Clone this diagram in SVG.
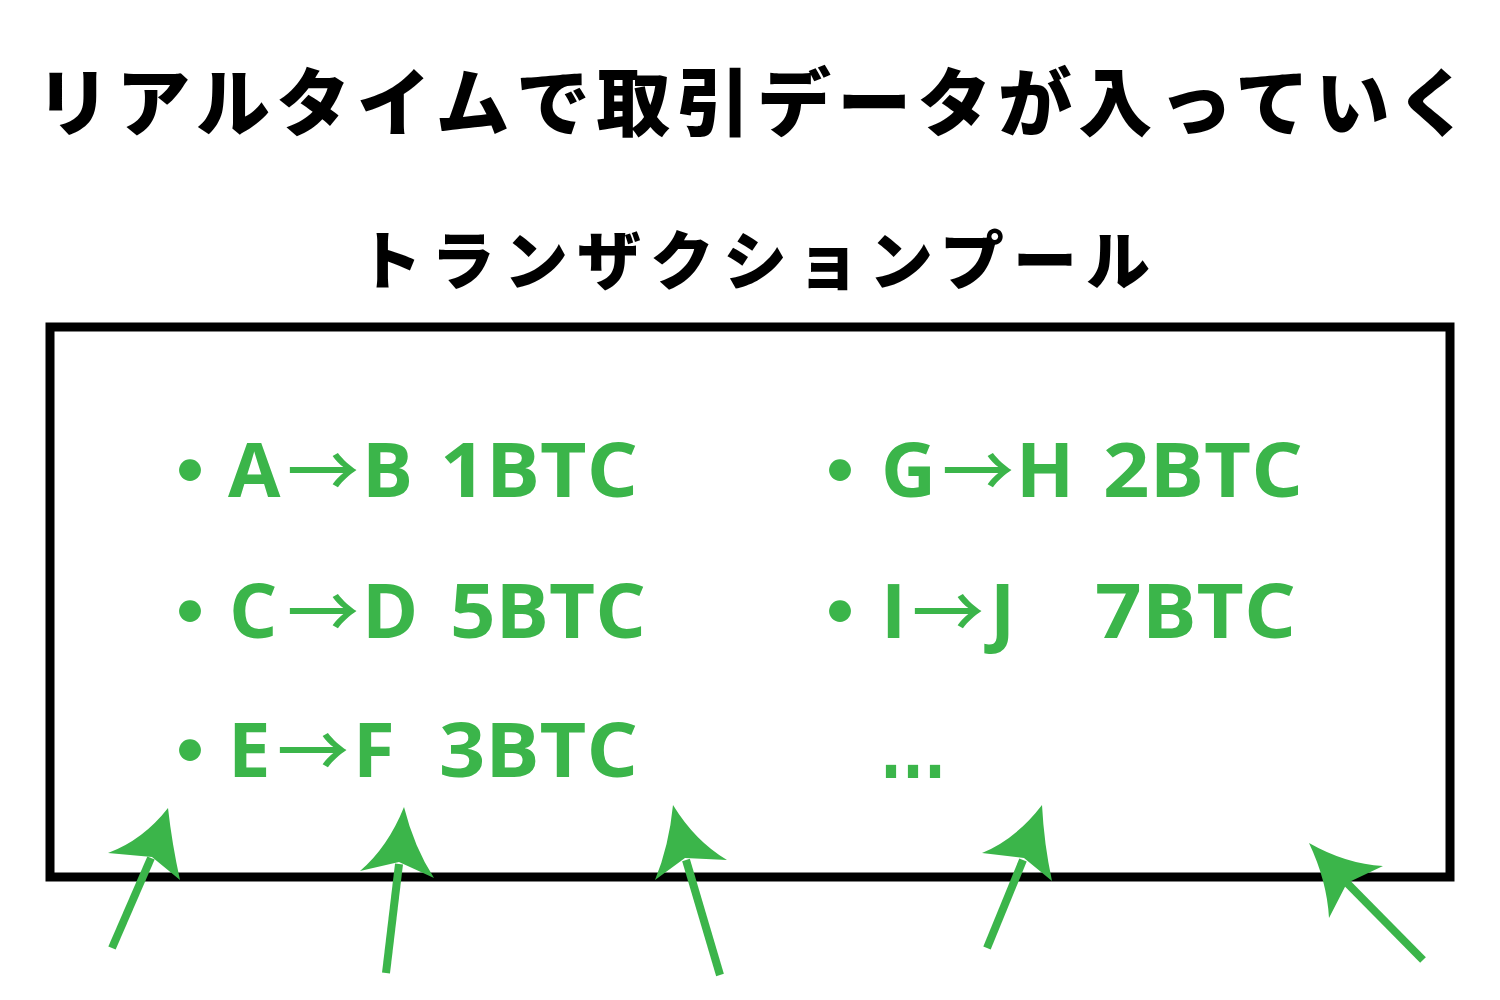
<svg xmlns="http://www.w3.org/2000/svg" width="1500" height="1000" viewBox="0 0 1500 1000">
<style>
.title{font-family:"Noto Sans CJK JP","Noto Sans CJK SC",sans-serif;font-weight:900;fill:#000}
.tx{font-family:"Open Sans","Noto Sans","Liberation Sans",sans-serif;font-weight:700;font-size:76px;fill:#3BB54A}
.ar{font-family:"Noto Sans CJK JP","Noto Sans CJK SC",sans-serif;font-weight:500;font-size:72px}
.dot{font-family:"Noto Sans CJK JP",sans-serif;font-weight:900;font-size:78px;fill:#3BB54A}
.ell{font-family:"DejaVu Sans",sans-serif;font-weight:700;font-size:70px;fill:#3BB54A}
.shaft{stroke:#3BB54A;stroke-width:8;fill:none}
.head{fill:#3BB54A}
</style>
<rect width="1500" height="1000" fill="#fff"/>
<g id="title">
<text class="title" x="36" y="130" font-size="74" textLength="1434" lengthAdjust="spacing">リアルタイムで取引データが入っていく</text>
</g>
<g id="pool">
<text class="title" x="358" y="284" font-size="64" textLength="792" lengthAdjust="spacing">トランザクションプール</text>
<rect x="50" y="327" width="1400" height="550" fill="none" stroke="#000" stroke-width="9"/>
</g>
<g id="tx1">
<text class="dot" x="151" y="500">・</text>
<text class="tx" y="497"><tspan x="228">A</tspan><tspan class="ar" x="287">→</tspan><tspan x="362">B</tspan></text>
<text class="tx" x="440" y="497" textLength="198" lengthAdjust="spacingAndGlyphs">1BTC</text>
</g>
<g id="tx2">
<text class="dot" x="151" y="641">・</text>
<text class="tx" y="638"><tspan x="229">C</tspan><tspan class="ar" x="287">→</tspan><tspan x="362">D</tspan></text>
<text class="tx" x="450" y="638" textLength="196" lengthAdjust="spacingAndGlyphs">5BTC</text>
</g>
<g id="tx3">
<text class="dot" x="151" y="780">・</text>
<text class="tx" y="777"><tspan x="228">E</tspan><tspan class="ar" x="277">→</tspan><tspan x="353">F</tspan></text>
<text class="tx" x="439" y="777" textLength="199" lengthAdjust="spacingAndGlyphs">3BTC</text>
</g>
<g id="tx4">
<text class="dot" x="801" y="500">・</text>
<text class="tx" y="497"><tspan x="881">G</tspan><tspan class="ar" x="942">→</tspan><tspan x="1016">H</tspan></text>
<text class="tx" x="1103" y="497" textLength="200" lengthAdjust="spacingAndGlyphs">2BTC</text>
</g>
<g id="tx5">
<text class="dot" x="801" y="641">・</text>
<text class="tx" y="638"><tspan x="881">I</tspan><tspan class="ar" x="912">→</tspan><tspan x="990">J</tspan></text>
<text class="tx" x="1095" y="638" textLength="201" lengthAdjust="spacingAndGlyphs">7BTC</text>
</g>
<g id="more">
<text class="ell" x="880" y="778" textLength="66" lengthAdjust="spacingAndGlyphs">...</text>
</g>
<g id="connectors">
<line class="shaft" x1="112" y1="948" x2="151" y2="858"/>
<path class="head" d="M168 808 Q143 840 108 853 L152 857 L180 880 Q172 844 168 808 Z"/>
<line class="shaft" x1="386" y1="973" x2="399" y2="864"/>
<path class="head" d="M404 807 Q388 847 360 871 L399 862 L434 878 Q414 847 404 807 Z"/>
<line class="shaft" x1="720" y1="975" x2="686" y2="860"/>
<path class="head" d="M673 805 Q669 846 655 880 L685 858 L727 860 Q695 841 673 805 Z"/>
<line class="shaft" x1="987" y1="948" x2="1023" y2="860"/>
<path class="head" d="M1042 805 Q1016 839 982 853 L1024 858 L1052 881 Q1044 844 1042 805 Z"/>
<line class="shaft" x1="1423" y1="960" x2="1346" y2="882"/>
<path class="head" d="M1309 843 Q1346 864 1383 866 L1347 883 L1329 918 Q1327 881 1309 843 Z"/>
</g>
</svg>
